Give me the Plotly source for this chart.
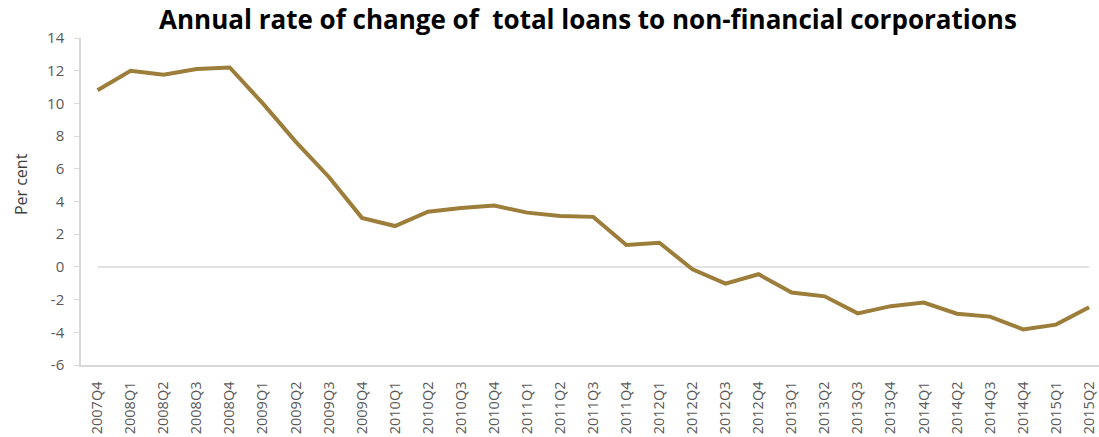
import plotly.graph_objects as go

# Quarterly periods and annual growth of loans to non-financial corporations (%)
quarters = [
    "2007Q4",
    "2008Q1", "2008Q2", "2008Q3", "2008Q4",
    "2009Q1", "2009Q2", "2009Q3", "2009Q4",
    "2010Q1", "2010Q2", "2010Q3", "2010Q4",
    "2011Q1", "2011Q2", "2011Q3", "2011Q4",
    "2012Q1", "2012Q2", "2012Q3", "2012Q4",
    "2013Q1", "2013Q2", "2013Q3", "2013Q4",
    "2014Q1", "2014Q2", "2014Q3", "2014Q4",
    "2015Q1", "2015Q2",
]
growth_rate = [
    10.8,
    12.0, 11.75, 12.1, 12.2,
    10.0, 7.65, 5.5, 3.0,
    2.5, 3.38, 3.6, 3.75,
    3.32, 3.12, 3.06, 1.34,
    1.48, -0.15, -1.02, -0.45,
    -1.57, -1.8, -2.84, -2.4,
    -2.18, -2.86, -3.04, -3.82,
    -3.53, -2.47,
]
y_ticks = [-6, -4, -2, 0, 2, 4, 6, 8, 10, 12, 14]
# Plain hyphen-minus labels for the value axis
y_tick_labels = [str(v) for v in y_ticks]

title_text = "Annual rate of change of  total loans to non-financial corporations"
axis_title = "Per cent"

LINE_COLOR = "#9c7d3a"
AXIS_GREY = "#d9d9d9"
TEXT_GREY = "#595959"
FONT = "Open Sans"

fig = go.Figure()

fig.add_trace(go.Scatter(
    x=quarters,
    y=growth_rate,
    mode="lines",
    line=dict(color=LINE_COLOR, width=4),
    hoverinfo="x+y",
    showlegend=False,
))

# Zero reference line spanning the first to last quarter
fig.add_shape(
    type="line", xref="x", yref="y",
    x0=quarters[0], x1=quarters[-1], y0=0, y1=0,
    line=dict(color=AXIS_GREY, width=1.5),
    layer="below",
)

fig.update_layout(
    width=1099,
    height=437,
    margin=dict(l=81, r=0, t=38, b=72),
    paper_bgcolor="white",
    plot_bgcolor="white",
    font=dict(family=FONT, color=TEXT_GREY, size=15),
    title=dict(
        text="<b>" + title_text + "</b>",
        font=dict(family=FONT, size=26, color="black"),
        x=0.535, xanchor="center",
        y=1 - 20 / 437, yanchor="middle",
        yref="container",
    ),
    xaxis=dict(
        type="category",
        range=[-0.5, 30.3],
        showgrid=False,
        zeroline=False,
        showline=True,
        linecolor=AXIS_GREY,
        linewidth=1.5,
        ticks="",
        tickangle=-90,
        tickfont=dict(size=14.5, color=TEXT_GREY),
        ticklabelstandoff=9,
    ),
    yaxis=dict(
        range=[-6, 14],
        tickvals=y_ticks,
        ticktext=y_tick_labels,
        showgrid=False,
        zeroline=False,
        showline=True,
        linecolor=AXIS_GREY,
        linewidth=1.5,
        ticks="outside",
        ticklen=5,
        tickcolor=AXIS_GREY,
        tickfont=dict(size=15, color=TEXT_GREY),
        ticklabelstandoff=7,
    ),
    annotations=[
        dict(
            text=axis_title,
            xref="paper", yref="paper",
            x=-0.059, y=0.553,
            xanchor="center", yanchor="middle",
            textangle=-90,
            showarrow=False,
            font=dict(family=FONT, size=16, color="#404040"),
        )
    ],
)

fig.write_html("out.html")
